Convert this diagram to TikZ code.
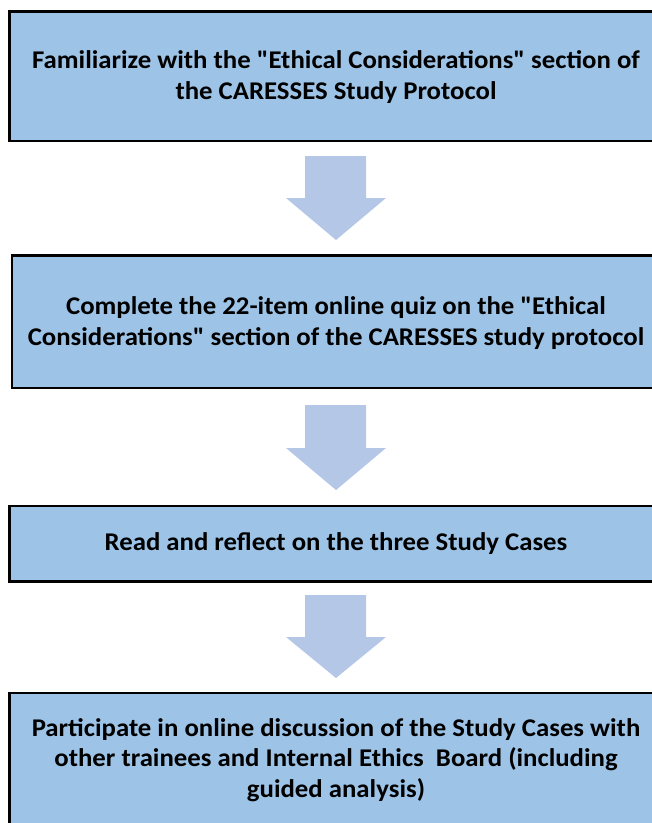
\documentclass[tikz,border=0pt]{standalone}
\usepackage{fontspec}
\setmainfont{Carlito}[FakeStretch=1.05,Ligatures=TeXOff]
\newcommand{\dq}{\symbol{34}}
\begin{document}
\begin{tikzpicture}[x=1pt,y=-1pt,
  stepbox/.style={draw=black,line width=2.6pt,fill=boxblue},
  steptext/.style={align=center,font=\fontsize{25.5}{30.8}\selectfont\bfseries,text=black,inner sep=0pt},
  blockarrow/.style={fill=arrowblue,draw=none}]
\definecolor{boxblue}{HTML}{9DC3E6}
\definecolor{arrowblue}{HTML}{B4C7E7}
\useasboundingbox (0,0) rectangle (652,823);
\begin{scope}
\clip (0,0) rectangle (652,823);
% boxes
\draw[stepbox] (9.5,11.5) rectangle (666,141);
\draw[stepbox] (12,255.5) rectangle (666,388);
\draw[stepbox] (9.5,506) rectangle (666,581.5);
\draw[stepbox] (9.5,693) rectangle (666,826);
% texts
\node[steptext] (s1) at (336,77) {Familiarize with the \dq Ethical Considerations\dq{} section of\\the CARESSES Study Protocol};
\node[steptext] (s2) at (336,323) {Complete the 22-item online quiz on the \dq Ethical\\Considerations\dq{} section of the CARESSES study protocol};
\node[steptext] (s3) at (336,544) {Read and reflect on the three Study Cases};
\node[steptext] (s4) at (336,760) {Participate in online discussion of the Study Cases with\\other trainees and Internal Ethics\ \ Board (including\\guided analysis)};
% block arrows
\foreach \t/\s/\b in {156/198/240, 405/448/490, 595/637/678}{
  \fill[blockarrow] (305,\t) -- (366,\t) -- (366,\s) -- (386,\s) -- (336,\b) -- (286,\s) -- (305,\s) -- cycle;
}
\end{scope}
\end{tikzpicture}
\end{document}
